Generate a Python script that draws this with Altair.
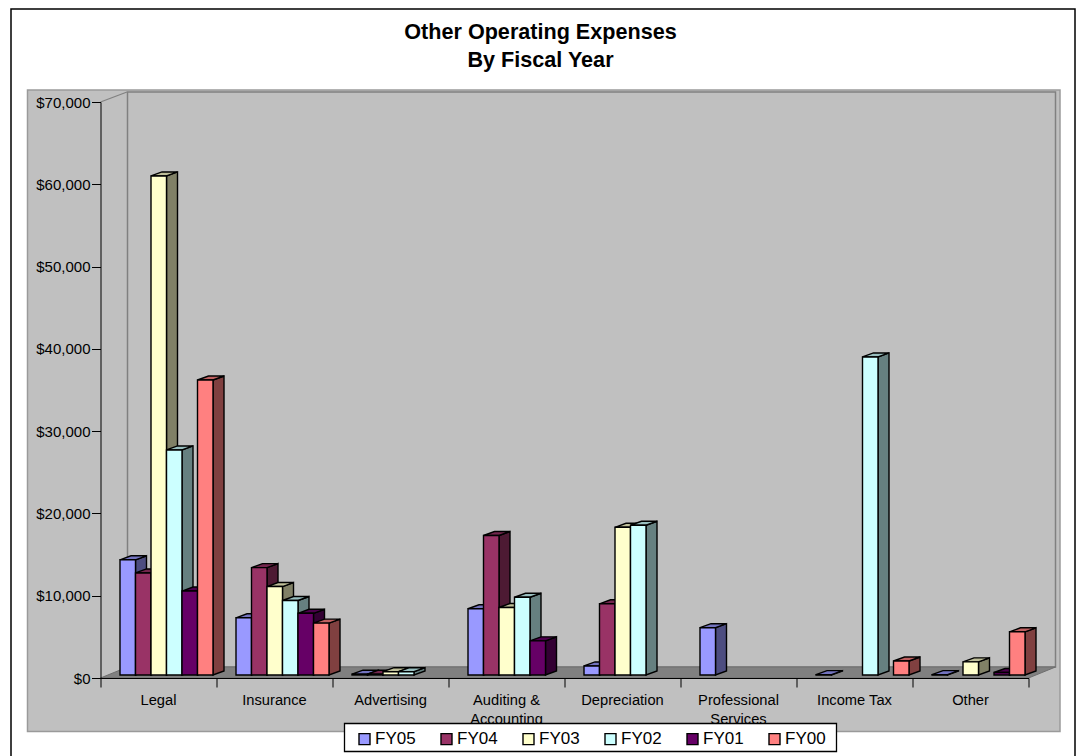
import altair as alt
import pandas as pd

categories = ["Legal", "Insurance", "Advertising", "Auditing &\nAccounting", "Depreciation",
              "Professional\nServices", "Income Tax", "Other"]
series = ["FY05", "FY04", "FY03", "FY02", "FY01", "FY00"]
fy05 = [14000, 6950, 100, 8050, 1100, 5750, 40, 40]
fy04 = [12400, 13050, 100, 16950, 8650, None, None, None]
fy03 = [60650, 10750, 400, 8200, 17950, None, None, 1600]
fy02 = [27350, 9050, 400, 9450, 18200, None, 38650, None]
fy01 = [10200, 7500, None, 4150, None, None, None, 300]
fy00 = [35850, 6300, None, None, None, None, 1700, 5250]
values = [fy05, fy04, fy03, fy02, fy01, fy00]
front_colors = ["#9999FF", "#993366", "#FFFFCC", "#CCFFFF", "#660066", "#FF8080"]
side_colors = ["#4D4D80", "#4D1A33", "#808066", "#668080", "#330033", "#804040"]
top_colors = ["#7373BF", "#73264D", "#BFBF99", "#99BFBF", "#4D004D", "#BF6060"]

FONT = "Liberation Sans"
PLOT_W, PLOT_H = 928, 576
YMAX = 70000
PX = 8 / PLOT_W            # one pixel in category units
PY = YMAX / PLOT_H         # one pixel in dollars
BAR_W, BAR_DX, BAR_DY = 15.5 * PX, 11 * PX, 4 * PY
BAR_START, BAR_BASE = 19.5 * PX, 3 * PY
WALL_DX, WALL_DY = 27 * PX, 11 * PY

x_scale = alt.Scale(domain=[0, 8], nice=False, zero=False)
y_scale = alt.Scale(domain=[0, YMAX], nice=False, zero=False)
x_axis = alt.Axis(values=list(range(9)), labels=False, title=None, grid=False, tickSize=9,
                  tickColor="#000000", domainColor="#000000", zindex=1)
y_axis = alt.Axis(values=list(range(0, YMAX + 1, 10000)), format="$,.0f", title=None, grid=False,
                  tickSize=9, tickColor="#000000", domainColor="#000000", labelColor="#000000",
                  labelFont=FONT, labelFontSize=15, labelPadding=1.5, zindex=1)
X = alt.X("x:Q", scale=x_scale, axis=x_axis)
Y = alt.Y("y:Q", scale=y_scale, axis=y_axis, stack=None)

fronts, sides, tops = [], [], []
for s, name in enumerate(series):
    for c, v in enumerate(values[s]):
        if v is None:
            continue
        x0 = c + BAR_START + s * BAR_W
        x1 = x0 + BAR_W
        top = v + BAR_BASE
        fronts.append(dict(series=name, x=x0, x2=x1, y=top, y2=BAR_BASE))
        sides += [dict(series=name, cat=c, x=x1, y=top, y2=BAR_BASE),
                  dict(series=name, cat=c, x=x1 + BAR_DX, y=top + BAR_DY, y2=BAR_BASE + BAR_DY)]
        tops += [dict(series=name, cat=c, x=x0, y=top, y2=top),
                 dict(series=name, cat=c, x=x0 + BAR_DX, y=top + BAR_DY, y2=top),
                 dict(series=name, cat=c, x=x1, y=top + BAR_DY, y2=top),
                 dict(series=name, cat=c, x=x1 + BAR_DX, y=top + BAR_DY, y2=top + BAR_DY)]
fronts, sides, tops = pd.DataFrame(fronts), pd.DataFrame(sides), pd.DataFrame(tops)

def px(x1, x2, y1, y2):
    return dict(x=alt.value(x1 - 100.5), x2=alt.value(x2 - 100.5), y=alt.value(y1 - 102), y2=alt.value(y2 - 102))

one = pd.DataFrame({"k": [0]})
layers = [
    # frame
    alt.Chart(one).mark_rect(fill="#FFFFFF", stroke="#000000", strokeWidth=1.5).encode(**px(11, 1075, 9, 790)),
    # grey panel
    alt.Chart(one).mark_rect(fill="#C0C0C0", stroke="#9A9A9A", strokeWidth=1.5).encode(**px(27.5, 1060, 90, 731.5)),
    # back wall
    alt.Chart(pd.DataFrame({"x": [WALL_DX], "x2": [8 + WALL_DX], "y": [YMAX + 10 * PY], "y2": [WALL_DY]}))
    .mark_rect(fill="#C0C0C0", stroke="#808080", strokeWidth=1.5)
    .encode(x=X, x2="x2:Q", y=Y, y2="y2:Q"),
    # wall top-left diagonal
    alt.Chart(one).mark_rule(color="#808080", strokeWidth=1.2).encode(**px(100.5, 127, 102, 92)),
    # floor
    alt.Chart(pd.DataFrame({"x": [0, WALL_DX, 8, 8 + WALL_DX],
                            "y": [0, WALL_DY, WALL_DY, WALL_DY],
                            "y2": [0, 0, 0, WALL_DY]}))
    .mark_area(fill="#808080", stroke="#6E6E6E", strokeWidth=1)
    .encode(x=X, y=Y, y2="y2:Q"),
]

legend = alt.Legend(orient="none", legendX=356 - 100.5, legendY=730.5 - 102, direction="horizontal",
                    columns=6, title=None, symbolType="square", symbolSize=121, symbolStrokeColor="#000000",
                    symbolStrokeWidth=1.4, labelFont=FONT, labelFontSize=17, labelColor="#000000",
                    labelOffset=2, columnPadding=22, padding=0)
color = alt.Color("series:N", scale=alt.Scale(domain=series, range=front_colors), legend=legend)

for s, name in enumerate(series):
    side_df = sides[sides.series == name]
    top_df = tops[tops.series == name]
    front_df = fronts[fronts.series == name]
    layers += [
        alt.Chart(side_df).mark_area(fill=side_colors[s], stroke="#000000", strokeWidth=1.4)
        .encode(x=X, y=Y, y2="y2:Q", detail="cat:N"),
        alt.Chart(top_df).mark_area(fill=top_colors[s], stroke="#000000", strokeWidth=1.4)
        .encode(x=X, y=Y, y2="y2:Q", detail="cat:N"),
        alt.Chart(front_df).mark_rect(stroke="#000000", strokeWidth=1.4)
        .encode(x=X, x2="x2:Q", y=Y, y2="y2:Q", color=color),
    ]

labels = pd.DataFrame({"x": [i + 0.5 for i in range(8)], "label": categories})
layers.append(
    alt.Chart(labels).mark_text(font=FONT, fontSize=14.7, color="#000000", baseline="top", align="center",
                                lineBreak="\n", lineHeight=19)
    .encode(x=X, y=alt.value(693 - 102), text="label:N")
)
# legend box, over the labels; the legend's entries sit on it
layers.append(alt.Chart(one).mark_rect(fill="#FFFFFF", stroke="#000000", strokeWidth=1.3).encode(**px(344.5, 836.5, 723.5, 751.5)))

chart = (
    alt.layer(*layers)
    .properties(
        width=PLOT_W, height=PLOT_H,
        autosize=alt.AutoSizeParams(type="none"),
        padding={"left": 92.5, "top": 94, "right": 51.5, "bottom": 78},
        title=alt.TitleParams(text=["Other Operating Expenses", "By Fiscal Year"], font=FONT, fontSize=21.6,
                              fontWeight="bold", color="#000000", anchor="middle", dx=-24, offset=-63, lineHeight=28),
    )
    .configure_view(stroke=None)
    .configure(background="#FFFFFF")
)
chart.save("out.html", embed_options={"renderer": "svg", "actions": False})
